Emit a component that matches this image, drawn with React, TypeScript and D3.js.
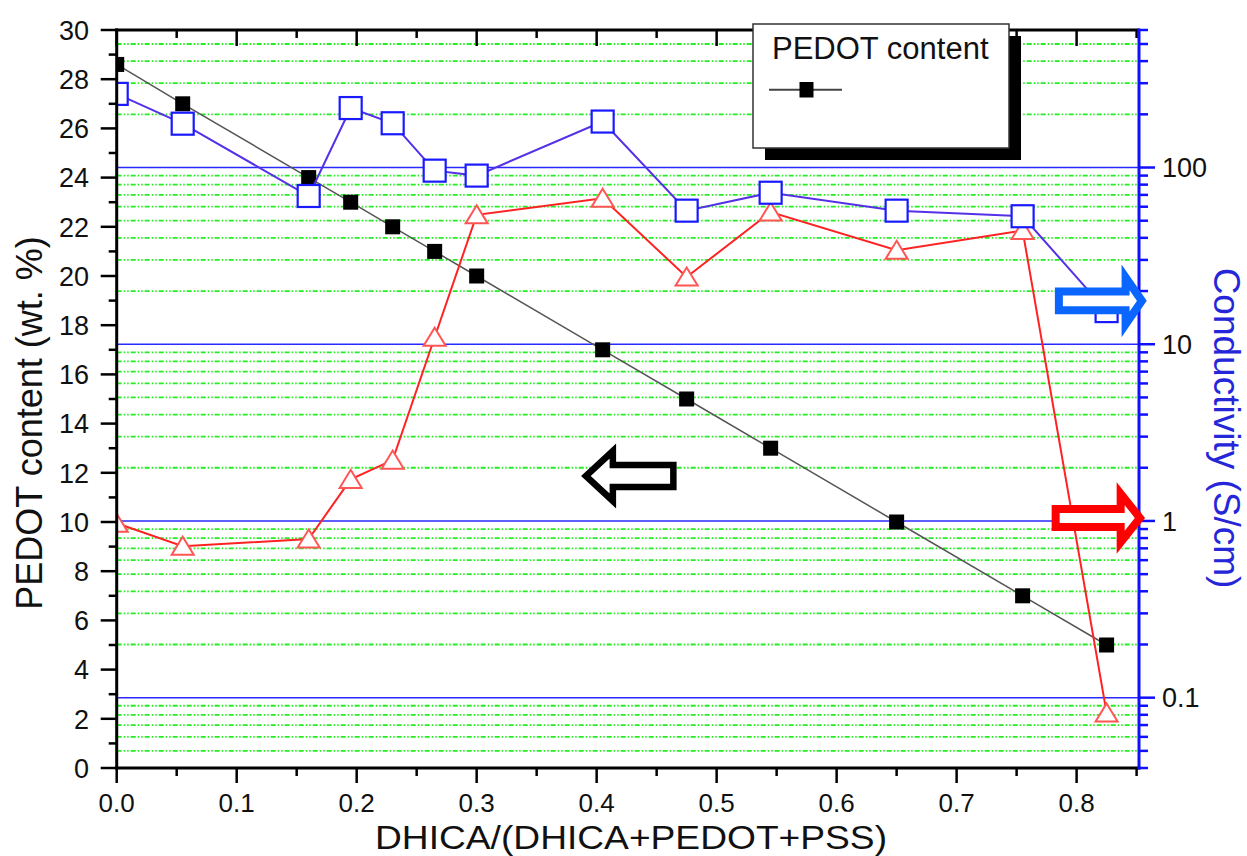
import React from 'react'
import { scaleLinear, scaleLog, line } from 'd3'

// fraction of DHICA in the film
const dhicaFraction = [0, 0.055, 0.16, 0.195, 0.23, 0.265, 0.3, 0.405, 0.475, 0.545, 0.65, 0.755, 0.825]
// PEDOT content, wt. % (left axis)
const pedotContent = [28.6, 27, 24, 23, 22, 21, 20, 17, 15, 13, 10, 7, 5]
// conductivity S/cm (right axis), open squares
const conductivitySquares = [261, 177, 69, 217, 178, 96, 90, 182, 57, 72, 57, 53, 15.4]
// conductivity S/cm (right axis), open triangles
const conductivityTriangles = [0.97, 0.72, 0.79, 1.72, 2.21, 10.95, 54, 67, 24, 56, 34, 44, 0.082]

const xTicks = [0, 0.1, 0.2, 0.3, 0.4, 0.5, 0.6, 0.7, 0.8]
const xMinorTicks = [0.05, 0.15, 0.25, 0.35, 0.45, 0.55, 0.65, 0.75, 0.85]
const leftTicks = [0, 2, 4, 6, 8, 10, 12, 14, 16, 18, 20, 22, 24, 26, 28, 30]
const leftMinorTicks = [1, 3, 5, 7, 9, 11, 13, 15, 17, 19, 21, 23, 25, 27, 29]
const rightTicks = [0.1, 1, 10, 100]
const rightTickLabels = ['0.1', '1', '10', '100']
const rightMinorTicks = [
  0.04, 0.05, 0.06, 0.07, 0.08, 0.09,
  0.2, 0.3, 0.4, 0.5, 0.6, 0.7, 0.8, 0.9,
  2, 3, 4, 5, 6, 7, 8, 9,
  20, 30, 40, 50, 60, 70, 80, 90,
  200, 300, 400, 500, 600
]

const FONT = 'Arial, "Liberation Sans", sans-serif'
const W = 1247
const H = 856
const left = 116.7
const right = 1139
const top = 30
const bottom = 768

const x = scaleLinear().domain([0, 0.852]).range([left, right])
const yL = scaleLinear().domain([0, 30]).range([bottom, top])
const yR = scaleLog().domain([0.04, 600]).range([bottom, top])

// block arrow outline, dir 1 = pointing right, -1 = pointing left
const arrowPath = (tx: number, ty: number, dir: number, len: number, shaft: number, head: number, headLen: number) => {
  const hb = tx - dir * headLen
  const tail = tx - dir * len
  return `M${tail},${ty - shaft}L${hb},${ty - shaft}L${hb},${ty - head}L${tx},${ty}L${hb},${ty + head}L${hb},${ty + shaft}L${tail},${ty + shaft}Z`
}

const tri = (cx: number, cy: number, s: number) =>
  `M${cx},${cy - s * 0.5}L${cx + s * 0.58},${cy + s * 0.45}L${cx - s * 0.58},${cy + s * 0.45}Z`

export default function App() {
  const idx = dhicaFraction.map((_, i) => i)
  const blackLine = line<number>().x(i => x(dhicaFraction[i])).y(i => yL(pedotContent[i]))
  const blueLine = line<number>().x(i => x(dhicaFraction[i])).y(i => yR(conductivitySquares[i]))
  const redLine = line<number>().x(i => x(dhicaFraction[i])).y(i => yR(conductivityTriangles[i]))

  return (
    <div style={{ position: 'absolute', left: 0, top: 0 }}>
      <svg width={W} height={H} style={{ display: 'block', background: '#fff' }} fontFamily={FONT}>
        <defs>
          <clipPath id='plot'>
            <rect x={left} y={top} width={right - left} height={bottom - top} />
          </clipPath>
        </defs>

        {/* minor grid, green dash-dot */}
        {rightMinorTicks.map(v => (
          <line key={'g' + v} x1={left} x2={right} y1={yR(v)} y2={yR(v)}
            stroke='#22ee22' strokeWidth={1.8} strokeDasharray='5,2,1.5,2,1.5,2' />
        ))}
        {/* major grid, blue */}
        {rightTicks.map(v => (
          <line key={'b' + v} x1={left} x2={right} y1={yR(v)} y2={yR(v)} stroke='#2a2aff' strokeWidth={1.6} />
        ))}

        <g clipPath='url(#plot)'>
          <path d={blackLine(idx) ?? ''} fill='none' stroke='#555' strokeWidth={1.5} />
          {idx.map(i => (
            <rect key={'k' + i} x={x(dhicaFraction[i]) - 7.5} y={yL(pedotContent[i]) - 7.5} width={15} height={15} fill='#000' />
          ))}
          <path d={redLine(idx) ?? ''} fill='none' stroke='#ff2222' strokeWidth={2} />
          {idx.map(i => (
            <path key={'t' + i} d={tri(x(dhicaFraction[i]), yR(conductivityTriangles[i]), 19)}
              fill='#fff' stroke='#ff5555' strokeWidth={2} />
          ))}
          <path d={blueLine(idx) ?? ''} fill='none' stroke='#5530e8' strokeWidth={2} />
          {idx.map(i => (
            <rect key={'s' + i} x={x(dhicaFraction[i]) - 11} y={yR(conductivitySquares[i]) - 11} width={22} height={22}
              fill='#fff' stroke='#1a1aff' strokeWidth={2.2} />
          ))}
        </g>

        {/* bottom axis */}
        <line x1={left - 1.5} x2={right + 1.5} y1={bottom} y2={bottom} stroke='#000' strokeWidth={3} />
        {xTicks.map((t, i) => (
          <g key={'xt' + i}>
            <line x1={x(t)} x2={x(t)} y1={bottom} y2={bottom + 15} stroke='#000' strokeWidth={2.5} />
            <line x1={x(t)} x2={x(t)} y1={top} y2={top + 16} stroke='#000' strokeWidth={2.5} />
            <text x={x(t)} y={812} textAnchor='middle' fontSize={26} fill='#111'>{t.toFixed(1)}</text>
          </g>
        ))}
        {xMinorTicks.map((t, i) => (
          <g key={'xm' + i}>
            <line x1={x(t)} x2={x(t)} y1={bottom} y2={bottom + 8} stroke='#000' strokeWidth={2.5} />
            <line x1={x(t)} x2={x(t)} y1={top} y2={top + 8} stroke='#000' strokeWidth={2.5} />
          </g>
        ))}
        {/* top axis */}
        <line x1={left - 1.5} x2={right} y1={top} y2={top} stroke='#000' strokeWidth={3} />

        {/* left axis */}
        <line x1={left} x2={left} y1={top - 1.5} y2={bottom + 1.5} stroke='#000' strokeWidth={3} />
        {leftTicks.map(t => (
          <g key={'lt' + t}>
            <line x1={left - 16} x2={left} y1={yL(t)} y2={yL(t)} stroke='#000' strokeWidth={2.5} />
            <text x={89} y={yL(t)} dy='0.36em' textAnchor='end' fontSize={27} fill='#111'>{t}</text>
          </g>
        ))}
        {leftMinorTicks.map(t => (
          <line key={'lm' + t} x1={left - 8} x2={left} y1={yL(t)} y2={yL(t)} stroke='#000' strokeWidth={2.5} />
        ))}

        {/* right axis, log */}
        <line x1={right} x2={right} y1={top - 1.5} y2={bottom + 1.5} stroke='#1010ff' strokeWidth={3} />
        {rightTicks.map((t, i) => (
          <g key={'rt' + t}>
            <line x1={right} x2={right + 16} y1={yR(t)} y2={yR(t)} stroke='#1010ff' strokeWidth={2.5} />
            <text x={1162} y={yR(t)} dy='0.36em' textAnchor='start' fontSize={27} fill='#111'>{rightTickLabels[i]}</text>
          </g>
        ))}
        {rightMinorTicks.map(t => (
          <line key={'rm' + t} x1={right} x2={right + 9} y1={yR(t)} y2={yR(t)} stroke='#1010ff' strokeWidth={2.5} />
        ))}

        {/* axis titles */}
        <text transform='translate(42,423) rotate(-90)' textAnchor='middle' fontSize={36} fill='#111'>
          PEDOT content (wt. %)
        </text>
        <text transform='translate(1214,428) rotate(90)' textAnchor='middle' fontSize={37} fill='#2626d9'>
          Conductivity (S/cm)
        </text>
        <text x={631} y={849} textAnchor='middle' fontSize={34} textLength={512} lengthAdjust='spacingAndGlyphs' fill='#111'>
          DHICA/(DHICA+PEDOT+PSS)
        </text>

        {/* arrows pointing to the axes */}
        <path d={arrowPath(x(0.391), yL(11.87), -1, 87.5, 11, 25, 27)} fill='#fff' stroke='#000' strokeWidth={6.5} strokeLinejoin='miter' />
        <path d={arrowPath(x(0.8544), yR(17.6), 1, 83, 9.3, 23.5, 16.3)} fill='#fff' stroke='#0a66ff' strokeWidth={8} strokeLinejoin='miter' />
        <path d={arrowPath(x(0.8528), yR(1.04), 1, 84.3, 9, 24.3, 19.3)} fill='#fff' stroke='#ff0000' strokeWidth={8} strokeLinejoin='miter' />

        {/* legend */}
        <rect x={765} y={36} width={256} height={124} fill='#000' />
        <rect x={753} y={24} width={256} height={124} fill='#fff' stroke='#333' strokeWidth={1.5} />
        <text x={772} y={59} fontSize={31} fill='#111'>PEDOT content</text>
        <line x1={769} x2={842} y1={89.7} y2={89.7} stroke='#444' strokeWidth={2} />
        <rect x={799.5} y={82} width={14} height={15.5} fill='#000' />
      </svg>
    </div>
  )
}
